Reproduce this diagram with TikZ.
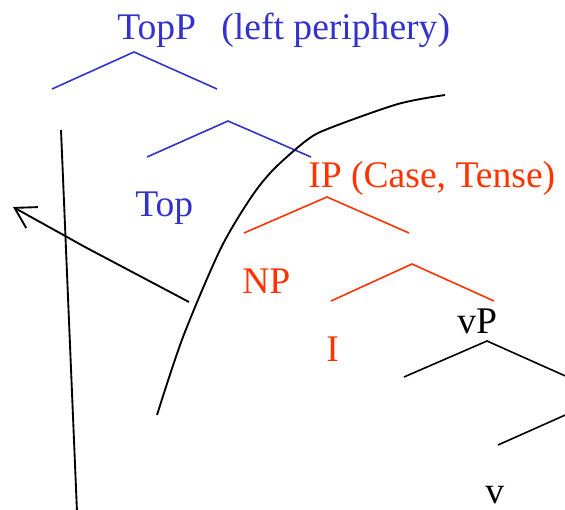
\documentclass[tikz,border=0pt]{standalone}
\usepackage{fontspec}
\setmainfont{Liberation Serif}
\usetikzlibrary{arrows.meta}
\definecolor{tblue}{RGB}{51,51,204}
\definecolor{tred}{RGB}{255,51,0}
\begin{document}
\begin{tikzpicture}[x=0.75pt,y=-0.75pt,
  lbl/.style={anchor=base west, inner sep=0pt, font=\fontsize{28.2}{32}\selectfont},
  br/.style={line width=1.2pt},
  blk/.style={line width=1.4pt, line join=round},
  ]
\useasboundingbox (0,0) rectangle (565,510);

% labels
\node[lbl, text=tblue] (topp) at (117,40) {TopP\hspace{19pt}(left periphery)};
\node[lbl, text=tblue] (top) at (135,217) {Top};
\node[lbl, text=tred] (ip) at (308,188) {IP (Case, Tense)};
\node[lbl, text=tred] (np) at (242,293) {NP};
\node[lbl, text=tred] (i) at (326,361) {I};
\node[lbl] (vp) at (457,333) {vP};
\node[lbl] (v) at (485,503) {v};

\begin{scope}
\clip (0,0) rectangle (565,510);
% tree coordinates
\coordinate (a1) at (134,52);  \coordinate (a1l) at (52,89);   \coordinate (a1r) at (217,89);
\coordinate (a2) at (228,121); \coordinate (a2l) at (147,157); \coordinate (a2r) at (311,157);
\coordinate (a3) at (327,197); \coordinate (a3l) at (244,233); \coordinate (a3r) at (409,233);
\coordinate (a4) at (412,264); \coordinate (a4l) at (331,301); \coordinate (a4r) at (494,301);
\coordinate (a5) at (487,341); \coordinate (a5l) at (404,377); \coordinate (a5r) at (590,387);
\coordinate (a6l) at (498,445); \coordinate (a6r) at (590,404);

\draw[br, tblue] (a1l) -- (a1) -- (a1r);
\draw[br, tblue] (a2l) -- (a2) -- (a2r);
\draw[br, tred] (a3l) -- (a3) -- (a3r);
\draw[br, tred] (a4l) -- (a4) -- (a4r);
\draw[br, black] (a5l) -- (a5) -- (a5r);
\draw[br, black] (a6l) -- (a6r);

% long near-vertical line
\coordinate (vt) at (61,130); \coordinate (vb) at (77,512);
\draw[blk] (vt) -- (vb);

% movement arrow
\coordinate (ms) at (189,302); \coordinate (mb) at (85,247); \coordinate (mt) at (13,207);
\draw[blk, -{Straight Barb[length=15pt, width=18pt, line width=1.4pt]}] (ms) -- (mb) -- (mt);

% boundary curve
\draw[blk] plot[smooth, tension=0.5] coordinates {(157,415) (183,337) (220,250) (250,199) (273,170) (307,140) (330,128) (398,104) (445,95)};
\end{scope}
\end{tikzpicture}
\end{document}
